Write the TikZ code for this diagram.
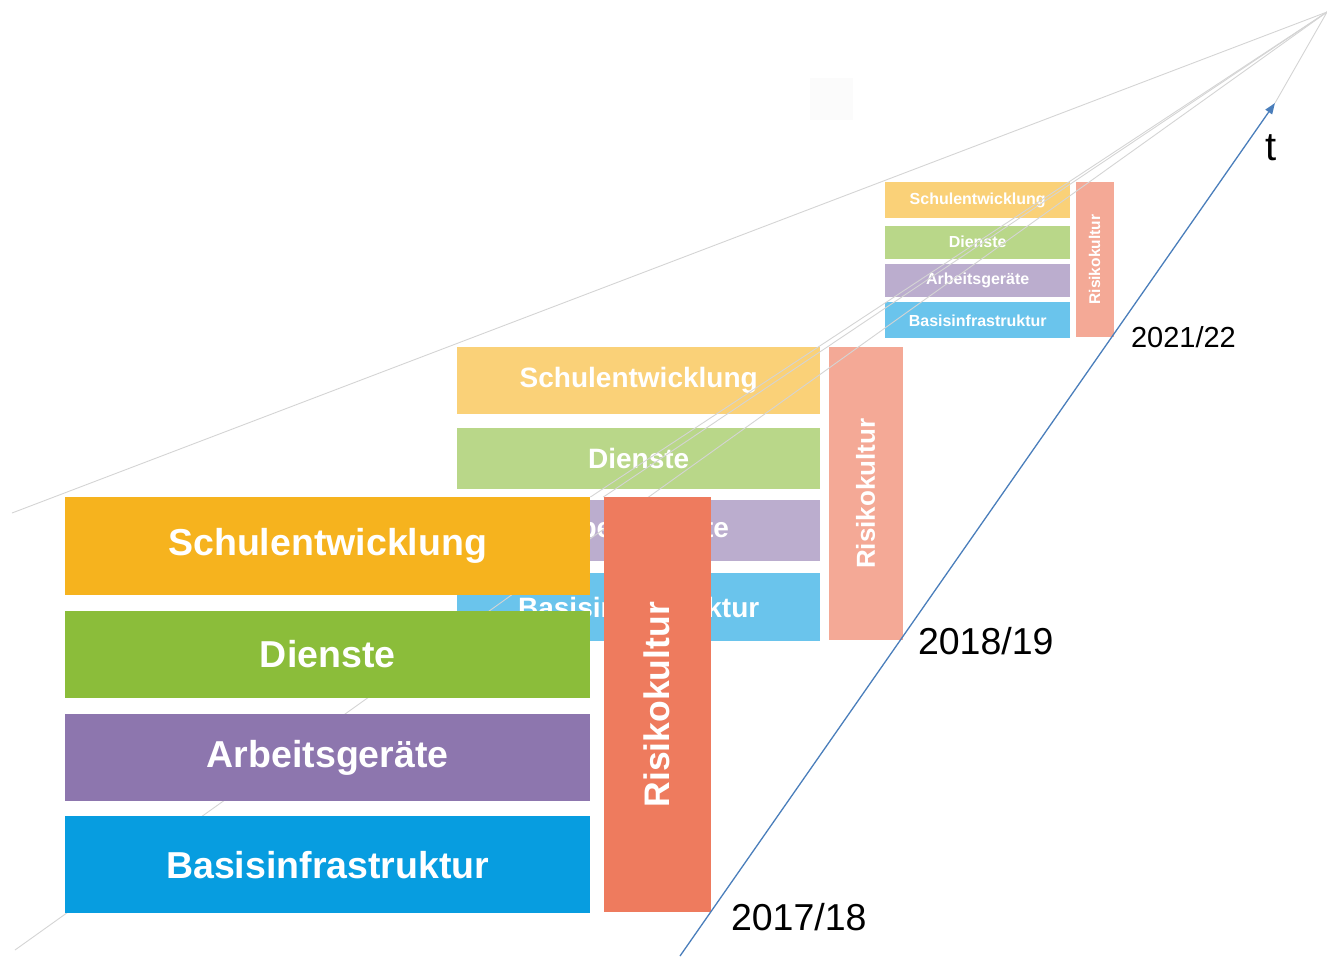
\documentclass[tikz,border=0pt]{standalone}
\usepackage{fontspec}
\setmainfont{Liberation Sans}
\usetikzlibrary{arrows.meta}
\usetikzlibrary{positioning}
\pgfdeclarelayer{back}
\pgfdeclarelayer{rays}
\pgfsetlayers{back,rays,main}

\definecolor{seOrange}{HTML}{F6B31E}
\definecolor{diGreen}{HTML}{8BBD3A}
\definecolor{agPurple}{HTML}{8D76AE}
\definecolor{biBlue}{HTML}{079DE0}
\definecolor{rkRed}{HTML}{EE7B5E}
\definecolor{rayGray}{HTML}{D4D4D4}
\definecolor{timeBlue}{HTML}{4A7EBB}

\newcommand{\fsz}[1]{\fontsize{#1}{#1}\selectfont}

\tikzset{
  area/.style={rectangle, inner sep=0pt, text=white},
  ray/.style={draw=rayGray, line width=0.9pt},
  timeaxis/.style={draw=timeBlue, line width=1.3pt, -{Triangle[length=11pt,width=8pt]}},
  year/.style={inner sep=0pt, text=black}
}

\begin{document}
\begin{tikzpicture}[x=1pt, y=-1pt]
    \useasboundingbox (0,0) rectangle (1327,956);
    \fill[black!1.5] (810,78) rectangle (853,120);

    % 2021/22
    \begin{pgfonlayer}{back}
      \node [area, fill=seOrange!60, minimum width=185pt, minimum height=36pt,
        font=\bfseries\fsz{16}, anchor=north west] (se3) at (885,182) {Schulentwicklung};
      \node [area, fill=diGreen!60, minimum width=185pt, minimum height=33pt,
        font=\bfseries\fsz{16}, below=7pt of se3] (di3) {Dienste};
      \node [area, fill=agPurple!60, minimum width=185pt, minimum height=33pt,
        font=\bfseries\fsz{16}, below=5pt of di3] (ag3) {Arbeitsgeräte};
      \node [area, fill=biBlue!60, minimum width=185pt, minimum height=36pt,
        font=\bfseries\fsz{16}, below=5pt of ag3] (bi3) {Basisinfrastruktur};
      \node [area, fill=rkRed!65, minimum width=38pt, minimum height=155pt,
        font=\bfseries\fsz{15.5}, right=5pt of se3.north east, anchor=north west] (rk3)
        {\rotatebox{90}{Risikokultur}};

      % 2018/19
      \node [area, fill=seOrange!60, minimum width=363pt, minimum height=67pt,
        font=\bfseries\fsz{28}, anchor=north west] (se2) at (457,347) {Schulentwicklung};
      \node [area, fill=diGreen!60, minimum width=363pt, minimum height=61pt,
        font=\bfseries\fsz{28}, below=13pt of se2] (di2) {Dienste};
      \node [area, fill=agPurple!60, minimum width=363pt, minimum height=61pt,
        font=\bfseries\fsz{28}, below=11pt of di2] (ag2) {Arbeitsgeräte};
      \node [area, fill=biBlue!60, minimum width=363pt, minimum height=68pt,
        font=\bfseries\fsz{28}, below=12pt of ag2] (bi2) {Basisinfrastruktur};
      \node [area, fill=rkRed!65, minimum width=74pt, minimum height=293pt,
        font=\bfseries\fsz{26}, right=8pt of se2.north east, anchor=north west] (rk2)
        {\rotatebox{90}{Risikokultur}};
    \end{pgfonlayer}

    % 2017/18
    \node [area, fill=seOrange, minimum width=525pt, minimum height=98pt,
      font=\bfseries\fsz{37.5}, anchor=north west] (se1) at (65,497) {Schulentwicklung};
    \node [area, fill=diGreen, minimum width=525pt, minimum height=87pt,
      font=\bfseries\fsz{37.5}, below=15pt of se1] (di1) {Dienste};
    \node [area, fill=agPurple, minimum width=525pt, minimum height=87pt,
      font=\bfseries\fsz{37.5}, below=16pt of di1] (ag1) {Arbeitsgeräte};
    \node [area, fill=biBlue, minimum width=525pt, minimum height=97pt,
      font=\bfseries\fsz{37.5}, below=15pt of ag1] (bi1) {Basisinfrastruktur};
    \node [area, fill=rkRed, minimum width=107pt, minimum height=415pt,
      font=\bfseries\fsz{35.5}, right=13pt of se1.north east, anchor=north west] (rk1)
      {\rotatebox{90}{Risikokultur}};

    \coordinate (apex) at (1327,12);
    \coordinate (topend) at (12,513);
    \coordinate (lowend) at (15,950);
    \coordinate (t0) at (680,956);
    \coordinate (t1) at (1275,103);

    \begin{pgfonlayer}{rays}
      \draw [ray] (apex) -- (topend);
      \draw [ray] (apex) -- (se1.north east);
      \draw [ray] (apex) -- (rk1.north west);
      \draw [ray] (apex) -- (lowend);
      \draw [ray] (t1) -- (apex);
    \end{pgfonlayer}

    \draw [timeaxis] (t0) -- (t1);
    \node [font=\fsz{40}, inner sep=0pt] (t) at (1271,148) {t};

    \node [year, font=\fsz{37.5}, right=20pt of rk1.south east, yshift=-5pt] (y1) {2017/18};
    \node [year, font=\fsz{37.5}, right=15pt of rk2.south east, yshift=-1pt] (y2) {2018/19};
    \node [year, font=\fsz{29}, right=17pt of rk3.south east] (y3) {2021/22};
\end{tikzpicture}
\end{document}
